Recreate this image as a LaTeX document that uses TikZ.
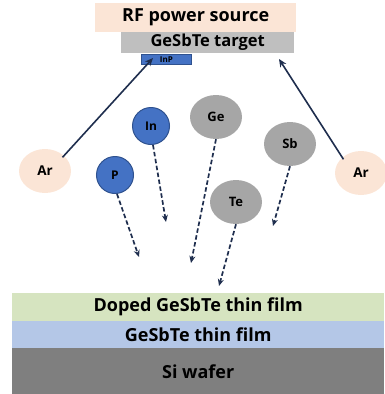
\documentclass[tikz,border=0pt]{standalone}
\usepackage{fontspec}
\setmainfont{Open Sans}
\usetikzlibrary{arrows.meta,shapes.geometric}
\definecolor{peach}{HTML}{FBE5D6}
\definecolor{tgray}{HTML}{BFBFBF}
\definecolor{ablue}{HTML}{4472C4}
\definecolor{bblue}{HTML}{2F528F}
\definecolor{egray}{HTML}{A6A6A6}
\definecolor{navy}{HTML}{1F2E4E}
\definecolor{lgreen}{HTML}{D6E4C0}
\definecolor{lblue}{HTML}{B4C7E7}
\definecolor{dgray}{HTML}{7F7F7F}
\begin{document}
\begin{tikzpicture}[x=1pt,y=-1pt,
  layer/.style={draw=none,inner sep=0pt,anchor=north west},
  lbl/.style={font=\bfseries\fontsize{18}{21}\selectfont},
  bluedot/.style={circle,fill=ablue,draw=bblue,line width=1pt,minimum size=37pt,inner sep=0pt,font=\bfseries\fontsize{12}{14}\selectfont},
  graydot/.style={ellipse,fill=egray,minimum width=52pt,minimum height=44pt,inner sep=0pt,font=\bfseries\fontsize{13}{15}\selectfont},
  ardot/.style={ellipse,fill=peach,minimum width=52pt,minimum height=44pt,inner sep=0pt,font=\bfseries\fontsize{13.5}{15}\selectfont},
  fly/.style={navy,line width=1.7pt,dash pattern=on 4.5pt off 2.5pt,-{Stealth[length=7pt,width=6pt]}},
  hit/.style={navy,line width=1.6pt,-{Stealth[length=8pt,width=7pt]}}]
\useasboundingbox (0,0) rectangle (384,394);
% top
\node[layer,fill=peach,minimum width=201pt,minimum height=29pt] (rf) at (95,3) {};
\node[lbl,font=\bfseries\fontsize{18}{21}\selectfont] at (rf.center) {RF power source};
\node[layer,fill=tgray,minimum width=173pt,minimum height=21pt] (tg) at (121,32) {};
\node[lbl,font=\bfseries\fontsize{16.5}{19}\selectfont] at (tg.center) {GeSbTe target};
\node[anchor=north west,fill=ablue,draw=bblue,line width=0.8pt,minimum width=50pt,minimum height=10pt,inner sep=0pt,font=\bfseries\fontsize{8}{9}\selectfont] (inp) at (141,54) {InP};
% layers
\node[layer,fill=lgreen,minimum width=372pt,minimum height=28pt] (doped) at (12,293) {};
\node[lbl] at (doped.center) {Doped GeSbTe thin film};
\node[layer,fill=lblue,minimum width=372pt,minimum height=27pt] (gst) at (12,321) {};
\node[lbl] at (gst.center) {GeSbTe thin film};
\node[layer,fill=dgray,minimum width=372pt,minimum height=46pt] (si) at (12,348) {};
\node[lbl] at (si.center) {Si wafer};
% particles
\node[ardot] (arl) at (45,171) {Ar};
\node[ardot] (arr) at (361,173) {Ar};
\node[bluedot] (in) at (151,126) {In};
\node[bluedot] (p) at (115,175) {P};
\node[graydot] (ge) at (216,117) {Ge};
\node[graydot] (sb) at (290,144) {Sb};
\node[graydot] (te) at (236,202) {Te};
% arrow ends
\coordinate (pe) at (139,257);
\coordinate (ine) at (166,222);
\coordinate (gee) at (191,263);
\coordinate (sbe) at (273,226);
\coordinate (tee) at (219,286);
\coordinate (arle) at (153,58);
\coordinate (arre) at (279,59);
\draw[fly] (p.south) ++(2,0) -- (pe);
\draw[fly] (in.south) ++(2,0) -- (ine);
\draw[fly] (ge.south) -- (gee);
\draw[fly] (sb.south) -- (sbe);
\draw[fly] (te.south) -- (tee);
\draw[hit] (arl.north east) ++(-1,2) -- (arle);
\draw[hit] (arr.north west) ++(1,2) -- (arre);
\end{tikzpicture}
\end{document}
